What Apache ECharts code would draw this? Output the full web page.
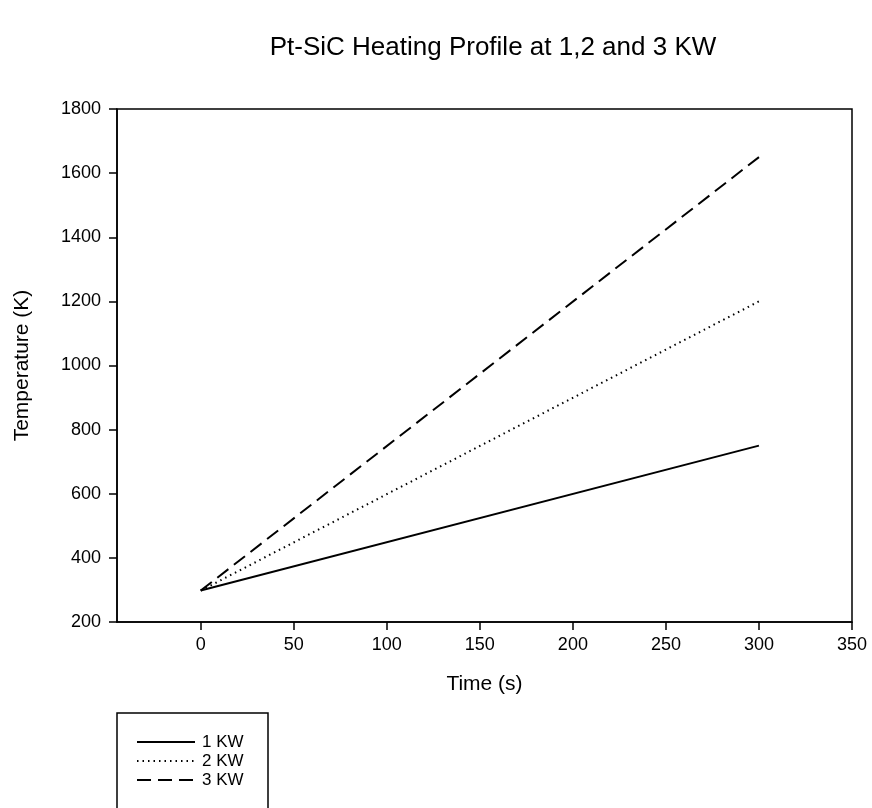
<!DOCTYPE html>
<html>
<head>
<meta charset="utf-8">
<script src="https://cdn.jsdelivr.net/npm/echarts@6/dist/echarts.min.js"></script>
<style>
  html, body { margin: 0; padding: 0; background: #fff; }
  #chart { width: 872px; height: 808px; }
</style>
</head>
<body>
<div id="chart"></div>
<script>
// Heating profile of the Pt-SiC element at three power levels
const timeSeconds = [0, 300];
const temp1kW = [298, 750];
const temp2kW = [298, 1200];
const temp3kW = [298, 1650];
const seriesNames = ['1 KW', '2 KW', '3 KW'];
const xTickValues = [0, 50, 100, 150, 200, 250, 300, 350];

const FONT = '"Liberation Sans", Arial, sans-serif';

function pairs(xs, ys) {
  return xs.map((x, i) => [x, ys[i]]);
}

const chart = echarts.init(document.getElementById('chart'), null, { renderer: 'canvas' });

chart.setOption({
  animation: false,
  backgroundColor: '#ffffff',
  title: {
    text: 'Pt-SiC Heating Profile at 1,2 and 3 KW',
    left: 488,
    top: 30,
    textAlign: 'center',
    textStyle: { fontFamily: FONT, fontSize: 26, fontWeight: 'normal', color: '#000' }
  },
  grid: {
    left: 117, right: 20, top: 109, bottom: 186,
    show: true, borderColor: '#000', borderWidth: 1.5, backgroundColor: 'transparent'
  },
  legend: {
    orient: 'vertical',
    left: 131,
    top: 728,
    itemWidth: 58,
    itemHeight: 12,
    itemGap: 1,
    data: seriesNames,
    // keep only the line sample in each legend row
    itemStyle: { opacity: 0, borderWidth: 0 },
    lineStyle: { width: 2 },
    textStyle: { fontFamily: FONT, fontSize: 17, lineHeight: 18, color: '#000', padding: [0, 0, 0, 2] }
  },
  graphic: [{
    type: 'rect',
    shape: { x: 117, y: 713, width: 151, height: 110 },
    style: { fill: 'none', stroke: '#000', lineWidth: 1.5 },
    z: 10
  }],
  xAxis: {
    type: 'value',
    min: -45,
    max: 350,
    name: 'Time (s)',
    nameLocation: 'middle',
    nameGap: 52,
    nameTextStyle: { fontFamily: FONT, fontSize: 21, color: '#000' },
    axisLine: { show: true, onZero: false, lineStyle: { color: '#000', width: 1.5 } },
    axisTick: { show: true, inside: false, length: 8, customValues: xTickValues, lineStyle: { color: '#000', width: 1.5 } },
    axisLabel: { customValues: xTickValues, fontFamily: FONT, fontSize: 18, color: '#000', margin: 14 },
    splitLine: { show: false }
  },
  yAxis: {
    type: 'value',
    min: 200,
    max: 1800,
    interval: 200,
    name: 'Temperature (K)',
    nameLocation: 'middle',
    nameGap: 84,
    nameTextStyle: { fontFamily: FONT, fontSize: 21, color: '#000' },
    axisLine: { show: true, onZero: false, lineStyle: { color: '#000', width: 1.5 } },
    axisTick: { show: true, inside: false, length: 8, lineStyle: { color: '#000', width: 1.5 } },
    axisLabel: { fontFamily: FONT, fontSize: 18, color: '#000', margin: 16, formatter: v => String(v) },
    splitLine: { show: false }
  },
  series: [
    {
      name: seriesNames[0], type: 'line', data: pairs(timeSeconds, temp1kW),
      symbol: 'none', lineStyle: { color: '#000', width: 2, type: 'solid' }, itemStyle: { color: '#000' }
    },
    {
      name: seriesNames[1], type: 'line', data: pairs(timeSeconds, temp2kW),
      symbol: 'none', lineStyle: { color: '#000', width: 2, type: [1.5, 4] }, itemStyle: { color: '#000' }
    },
    {
      name: seriesNames[2], type: 'line', data: pairs(timeSeconds, temp3kW),
      symbol: 'none', lineStyle: { color: '#000', width: 2, type: [14, 7] }, itemStyle: { color: '#000' }
    }
  ]
});
</script>
</body>
</html>
